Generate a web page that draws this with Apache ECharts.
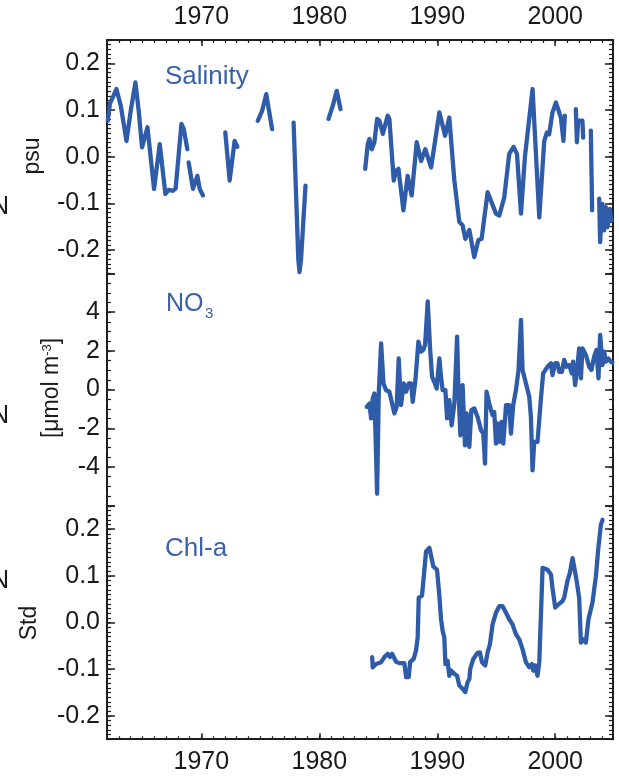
<!DOCTYPE html>
<html>
<head>
<meta charset="utf-8">
<script src="https://cdn.jsdelivr.net/npm/echarts@6/dist/echarts.min.js"></script>
<style>
  html, body { margin: 0; padding: 0; background: #fff; }
  #chart { width: 619px; height: 780px; }
</style>
</head>
<body>
<div id="chart"></div>
<script>
// ---- tick labels ----
const yearTicks = [1970, 1980, 1990, 2000];
const salinityTicks = [-0.2, -0.1, 0, 0.1, 0.2];
const nitrateTicks = [-4, -2, 0, 2, 4];
const chlTicks = [-0.2, -0.1, 0, 0.1, 0.2];

// ---- salinity anomaly [year, psu]; null separates gaps in the record ----
const salinity = [
  [1962.07,0.077],[1962.24,0.113],[1962.80,0.145],[1963.17,0.109],[1963.65,0.034],[1964.01,0.098],
  [1964.41,0.159],[1964.69,0.098],[1964.97,0.020],[1965.43,0.063],[1965.99,-0.069],[1966.47,0.027],
  [1966.95,-0.080],[1967.23,-0.071],[1967.60,-0.073],[1967.82,-0.068],[1968.31,0.070],[1968.50,0.060],
  [1968.81,0.016],
  null,
  [1968.92,-0.012],[1969.29,-0.069],[1969.66,-0.041],[1969.86,-0.069],[1970.14,-0.083],
  null,
  [1972.03,0.052],[1972.40,-0.051],[1972.82,0.034],[1973.05,0.021],
  null,
  [1974.78,0.077],[1975.15,0.098],[1975.50,0.134],[1976.00,0.059],
  null,
  [1977.82,0.073],[1978.22,-0.220],[1978.32,-0.247],[1978.45,-0.220],[1978.83,-0.062],
  null,
  [1980.78,0.081],[1981.14,0.109],[1981.48,0.141],[1981.80,0.102],
  null,
  [1983.89,-0.026],[1984.11,0.027],[1984.25,0.038],[1984.45,0.016],[1984.67,0.031],[1984.90,0.081],
  [1985.10,0.077],[1985.38,0.049],[1985.80,0.088],[1985.94,0.081],[1986.31,-0.051],[1986.51,-0.030],
  [1986.71,-0.026],[1987.13,-0.115],[1987.49,-0.041],[1987.83,-0.083],[1988.26,0.031],[1988.63,-0.009],
  [1988.99,0.016],[1989.48,-0.023],[1990.18,0.095],[1990.66,0.045],[1991.02,0.084],[1991.45,-0.051],
  [1991.87,-0.140],[1992.15,-0.147],[1992.38,-0.176],[1992.72,-0.157],[1993.14,-0.215],[1993.48,-0.179],
  [1993.76,-0.176],[1994.27,-0.076],[1994.98,-0.122],[1995.26,-0.126],[1995.68,-0.087],[1996.10,0.006],
  [1996.47,0.021],[1996.76,0.006],[1997.10,-0.122],[1997.43,-0.001],[1998.08,0.145],[1998.65,-0.130],
  [1999.07,0.034],[1999.30,0.052],[1999.49,0.048],[1999.77,0.095],[2000.06,0.116],[2000.48,0.084],
  [2000.70,0.034],[2000.82,0.088],
  null,
  [2001.75,0.102],[2001.84,0.031],[2001.95,0.077],[2002.31,0.077],[2002.37,0.041],
  null,
  [2003.02,0.056],[2003.13,-0.115],
  null,
  [2003.73,-0.090],[2003.81,-0.183],[2004.00,-0.101],[2004.15,-0.158],[2004.29,-0.108],[2004.43,-0.151],
  [2004.63,-0.112],[2004.77,-0.137]
];

// ---- nitrate anomaly [year, µmol m-3] ----
const nitrate = [
  [1984.02,-0.89],[1984.25,-0.72],[1984.39,-1.49],[1984.53,-0.46],[1984.67,-0.20],[1984.90,-5.38],
  [1985.04,-0.20],[1985.24,2.39],[1985.44,0.32],[1985.66,-0.03],[1985.94,-0.11],[1986.37,-1.23],
  [1986.56,-0.89],[1986.73,1.61],[1986.93,-0.80],[1987.15,0.32],[1987.36,-0.11],[1987.58,0.32],
  [1987.78,0.32],[1987.92,-0.63],[1988.15,0.49],[1988.40,2.48],[1988.63,1.96],[1988.82,2.05],
  [1988.97,2.31],[1989.19,4.55],[1989.39,2.13],[1989.56,0.66],[1989.75,0.40],[1989.95,0.06],
  [1990.18,1.61],[1990.32,0.66],[1990.46,-0.03],[1990.69,-0.03],[1990.83,-1.49],[1991.02,-0.54],
  [1991.22,-1.84],[1991.45,-0.72],[1991.68,2.74],[1991.79,0.15],[1991.96,-2.36],[1992.15,0.23],
  [1992.35,-2.88],[1992.49,-1.23],[1992.72,-2.96],[1992.89,-1.06],[1993.14,-0.97],[1993.42,-1.41],
  [1993.71,-2.10],[1993.90,-2.27],[1994.05,-3.82],[1994.18,-0.11],[1994.41,-0.72],[1994.56,-1.06],
  [1994.69,-1.32],[1994.83,-1.15],[1994.98,-2.79],[1995.11,-1.75],[1995.26,-2.70],[1995.45,-1.67],
  [1995.60,-2.79],[1995.83,-0.80],[1996.10,-0.80],[1996.25,-2.27],[1996.44,-0.80],[1996.67,-0.03],
  [1996.89,1.01],[1997.10,3.60],[1997.23,1.01],[1997.52,0.32],[1997.80,-0.37],[1997.94,-1.41],
  [1998.08,-4.17],[1998.22,-2.70],[1998.50,-2.70],[1998.79,-0.46],[1998.98,0.84],[1999.35,1.18],
  [1999.64,1.36],[1999.77,0.75],[2000.00,1.36],[2000.19,1.36],[2000.34,0.92],[2000.57,0.92],
  [2000.76,1.53],[2000.96,1.18],[2001.19,1.27],[2001.41,0.84],[2001.52,1.44],[2001.69,0.23],
  [2001.89,1.27],[2002.03,2.13],[2002.18,0.58],[2002.31,2.13],[2002.60,1.79],[2002.88,1.18],
  [2003.07,1.01],[2003.30,1.70],[2003.50,2.05],[2003.67,0.58],[2003.81,2.82],[2004.01,1.27],
  [2004.15,1.96],[2004.29,1.44],[2004.51,1.61],[2004.72,1.44],[2004.85,1.40]
];

// ---- chlorophyll-a anomaly [year, std] ----
const chlorophyll = [
  [1984.48,-0.074],[1984.53,-0.096],[1984.82,-0.089],[1985.24,-0.085],[1985.52,-0.074],[1985.80,-0.067],
  [1986.00,-0.074],[1986.17,-0.067],[1986.51,-0.084],[1986.79,-0.087],[1987.21,-0.087],[1987.36,-0.117],
  [1987.58,-0.117],[1987.70,-0.085],[1988.00,-0.078],[1988.20,-0.060],[1988.34,-0.032],[1988.43,0.053],
  [1988.71,0.058],[1988.91,0.113],[1989.05,0.152],[1989.33,0.160],[1989.67,0.120],[1989.98,0.113],
  [1990.18,0.057],[1990.32,0.007],[1990.46,-0.018],[1990.60,-0.032],[1990.69,-0.089],[1990.88,-0.082],
  [1991.02,-0.114],[1991.17,-0.103],[1991.45,-0.110],[1991.68,-0.114],[1991.87,-0.135],[1992.15,-0.142],
  [1992.38,-0.149],[1992.57,-0.128],[1992.72,-0.121],[1992.80,-0.099],[1993.06,-0.078],[1993.42,-0.065],
  [1993.62,-0.064],[1993.79,-0.085],[1994.07,-0.092],[1994.27,-0.064],[1994.47,-0.046],[1994.69,-0.004],
  [1994.98,0.021],[1995.26,0.035],[1995.54,0.035],[1995.83,0.021],[1996.10,0.007],[1996.38,-0.004],
  [1996.67,-0.025],[1996.95,-0.036],[1997.23,-0.057],[1997.52,-0.085],[1997.80,-0.096],[1998.03,-0.089],
  [1998.14,-0.103],[1998.31,-0.092],[1998.50,-0.114],[1998.65,-0.085],[1998.93,0.117],[1999.35,0.113],
  [1999.64,0.103],[1999.77,0.074],[2000.00,0.032],[2000.28,0.039],[2000.62,0.046],[2000.76,0.053],
  [2001.04,0.089],[2001.24,0.106],[2001.47,0.138],[2001.61,0.135],[2001.80,0.092],[2002.03,0.053],
  [2002.18,-0.043],[2002.37,-0.036],[2002.60,-0.043],[2002.82,0.007],[2003.16,0.043],[2003.45,0.099],
  [2003.67,0.163],[2003.87,0.209],[2004.01,0.220]
];

// ---- styling ----
const FONT = '"Liberation Sans", Arial, Helvetica, sans-serif';
const LINE = '#2f5ca8';
const TITLE = '#3a62a9';
const FRAME = '#1e1e1e';
const TEXT = '#1a1a1a';

const X_MIN = 1962, X_MAX = 2004.9;
const GRID_LEFT = 107, GRID_W = 506;
const grids = [
  { left: GRID_LEFT, width: GRID_W, top: 40, height: 233.4 },
  { left: GRID_LEFT, width: GRID_W, top: 273.4, height: 232.4 },
  { left: GRID_LEFT, width: GRID_W, top: 505.8, height: 233.4 }
];

const xAxes = [];
const yAxes = [];

// x axes: labelled top of panel 1, bottom of panel 3, hidden in the middle
function addX(gridIndex, position) {
  const idx = xAxes.length;
  if (!position) {
    xAxes.push({ type: 'value', gridIndex, min: X_MIN, max: X_MAX, show: false });
    return idx;
  }
  xAxes.push({
    type: 'value', gridIndex, position, min: X_MIN, max: X_MAX,
    axisLine: { show: true, onZero: false, lineStyle: { color: FRAME, width: 2 } },
    axisTick: { show: true, inside: true, length: 6, customValues: yearTicks, lineStyle: { color: FRAME, width: 1.5 } },
    axisLabel: {
      show: true, customValues: yearTicks, margin: 10, color: TEXT, fontSize: 25, fontFamily: FONT,
      formatter: function (v) { return String(v); }
    },
    splitLine: { show: false }
  });
  // yearly minor ticks
  xAxes.push({
    type: 'value', gridIndex, position, min: X_MIN, max: X_MAX, interval: 1,
    axisLine: { show: false, onZero: false },
    axisTick: { show: true, inside: true, length: 3, lineStyle: { color: FRAME, width: 1.2 } },
    axisLabel: { show: false },
    splitLine: { show: false }
  });
  return idx;
}

function addY(gridIndex, min, max, labels, majors, minorStep, fmt) {
  const idx = yAxes.length;
  ['left', 'right'].forEach(function (position) {
    yAxes.push({
      type: 'value', gridIndex, position, min, max,
      axisLine: { show: true, onZero: false, lineStyle: { color: FRAME, width: 2 } },
      axisTick: { show: true, inside: true, length: 8, customValues: majors, lineStyle: { color: FRAME, width: 1.5 } },
      axisLabel: {
        show: position === 'left', customValues: labels, margin: 7,
        color: TEXT, fontSize: 25, fontFamily: FONT, formatter: fmt
      },
      splitLine: { show: false }
    });
    yAxes.push({
      type: 'value', gridIndex, position, min, max, interval: minorStep,
      axisLine: { show: false, onZero: false },
      axisTick: { show: true, inside: true, length: 4, lineStyle: { color: FRAME, width: 1.2 } },
      axisLabel: { show: false },
      splitLine: { show: false }
    });
  });
  return idx;
}

const fmt1 = function (v) { return v.toFixed(1); };
const fmt0 = function (v) { return String(Math.round(v)); };

const x0 = addX(0, 'top');
const x1 = addX(1, null);
const x2 = addX(2, 'bottom');

const y0 = addY(0, -0.25, 0.25, salinityTicks, [-0.25, -0.2, -0.1, 0, 0.1, 0.2, 0.25], 0.01, fmt1);
const y1 = addY(1, -6, 6, nitrateTicks, [-6, -4, -2, 0, 2, 4, 6], 0.5, fmt0);
const y2 = addY(2, -0.25, 0.25, chlTicks, [-0.25, -0.2, -0.1, 0, 0.1, 0.2, 0.25], 0.01, fmt1);

// split a record with null gaps into separate line pieces
function pieces(rows) {
  const out = [[]];
  rows.forEach(function (r) {
    if (r === null) out.push([]);
    else out[out.length - 1].push(r);
  });
  return out.filter(function (p) { return p.length; });
}

function lineSeries(data, xi, yi) {
  return {
    type: 'line', data, xAxisIndex: xi, yAxisIndex: yi,
    showSymbol: false, symbol: 'none', smooth: false,
    lineStyle: { color: LINE, width: 4.3, join: 'round', cap: 'round' },
    silent: true, clip: true
  };
}

const series = []
  .concat(pieces(salinity).map(function (p) { return lineSeries(p, x0, y0); }))
  .concat([lineSeries(nitrate, x1, y1)])
  .concat([lineSeries(chlorophyll, x2, y2)]);

function rotatedName(text, x, y, rich) {
  return {
    type: 'text', x, y, rotation: Math.PI / 2,
    style: {
      text, fill: TEXT, fontSize: 23, fontFamily: FONT,
      align: 'center', verticalAlign: 'middle', rich
    }
  };
}

function title(text, x, y, size) {
  return {
    type: 'text', x, y,
    style: { text, fill: TITLE, fontSize: size, fontFamily: FONT, align: 'left', verticalAlign: 'middle' }
  };
}

function edgeLetter(y) {
  return {
    type: 'text', x: 9, y,
    style: { text: 'N', fill: TEXT, fontSize: 25, fontFamily: FONT, align: 'right', verticalAlign: 'middle' }
  };
}

const graphic = [
  title('Salinity', 165, 77, 26),
  title('NO', 166, 304, 25),
  title('3', 205, 314, 15),
  title('Chl-a', 165, 549, 26),
  rotatedName('psu', 33, 156),
  rotatedName('{a|[μmol m}{b|-3}{a|]}', 52, 388, {
    a: { fontSize: 23, fontFamily: FONT, fill: TEXT },
    b: { fontSize: 13, fontFamily: FONT, fill: TEXT, verticalAlign: 'top' }
  }),
  rotatedName('Std', 30, 623),
  edgeLetter(207),
  edgeLetter(416),
  edgeLetter(581)
];

const chart = echarts.init(document.getElementById('chart'), null, { renderer: 'canvas' });
chart.setOption({
  animation: false,
  backgroundColor: '#ffffff',
  grid: grids,
  xAxis: xAxes,
  yAxis: yAxes,
  series,
  graphic
});
</script>
</body>
</html>
